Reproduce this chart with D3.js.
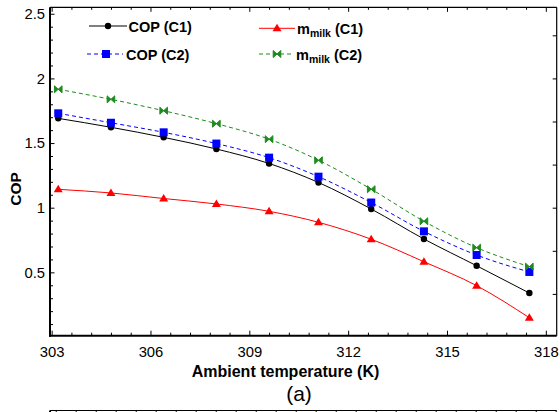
<!DOCTYPE html>
<html>
<head>
<meta charset="utf-8">
<script src="https://cdn.jsdelivr.net/npm/d3@7"></script>
<style>
  html, body { margin: 0; padding: 0; background: #fff; }
  svg { display: block; }
  text { font-family: "Liberation Sans", Arial, sans-serif; fill: #000; }
</style>
</head>
<body>
<svg id="chart" width="560" height="412"></svg>
<script>
// ---- data ----
const temps   = [303.2, 304.8, 306.4, 308.0, 309.6, 311.1, 312.7, 314.3, 315.9, 317.5];
const copC1   = [1.691, 1.622, 1.544, 1.454, 1.342, 1.195, 0.990, 0.758, 0.551, 0.340];
const copC2   = [1.730, 1.657, 1.583, 1.496, 1.387, 1.240, 1.040, 0.817, 0.634, 0.503];
const mMilkC1 = [1.142, 1.114, 1.071, 1.029, 0.972, 0.887, 0.756, 0.582, 0.397, 0.149];
const mMilkC2 = [1.916, 1.838, 1.750, 1.650, 1.530, 1.367, 1.143, 0.895, 0.691, 0.544];

const xTickValues = [303, 306, 309, 312, 315, 318];
const xTickLabels = ["303", "306", "309", "312", "315", "318"];
const yTickValues = [0.5, 1, 1.5, 2, 2.5];
const yTickLabels = ["0.5", "1", "1.5", "2", "2.5"];
const rightTickValues = [1, 2, 3, 4, 5, 6, 7];
const xLabel = "Ambient temperature (K)";
const yLabel = "COP";
const panelLabel = "(a)";

// ---- layout ----
const svg = d3.select("#chart");
const L = 50, R = 556.7, T = 7.3, B = 335.7;

const x = d3.scaleLinear().domain([302.95, 318.33]).range([L, R]);
const y = d3.scaleLinear().domain([0.01, 2.55]).range([B, T]);
const yRight = d3.scaleLinear().domain([0.03, 7.65]).range([B, T]);

const fontTick = 14.8;

// minor tick values
const xMinor = d3.range(0, 26).map(i => 303 + i * 0.6).filter(v => v <= 318.3 && !xTickValues.some(t => Math.abs(t - v) < 1e-6));
const yMinor = d3.range(1, 26).map(i => +(i * 0.1).toFixed(2)).filter(v => !yTickValues.some(t => Math.abs(t - v) < 1e-6));

// ---- axes ----
const gB = svg.append("g").attr("transform", `translate(0,${B})`)
  .call(d3.axisBottom(x).tickValues(xTickValues).tickFormat((d, i) => xTickLabels[i])
    .tickSizeInner(-5).tickSizeOuter(0).tickPadding(11));
gB.select(".domain").remove();
gB.selectAll(".tick line").attr("stroke", "#000").attr("stroke-width", 1);
gB.selectAll(".tick text").attr("font-size", fontTick).attr("font-family", "Liberation Sans, Arial, sans-serif");
svg.append("g").attr("transform", `translate(0,${B})`)
  .call(d3.axisBottom(x).tickValues(xMinor).tickFormat("").tickSizeInner(-3).tickSizeOuter(0))
  .call(g => g.select(".domain").remove())
  .selectAll(".tick line").attr("stroke", "#000");

svg.append("g").attr("transform", `translate(0,${T})`)
  .call(d3.axisTop(x).tickValues(xTickValues).tickFormat("").tickSizeInner(-4.5).tickSizeOuter(0))
  .call(g => g.select(".domain").remove())
  .selectAll(".tick line").attr("stroke", "#000");
svg.append("g").attr("transform", `translate(0,${T})`)
  .call(d3.axisTop(x).tickValues(xMinor).tickFormat("").tickSizeInner(-2.5).tickSizeOuter(0))
  .call(g => g.select(".domain").remove())
  .selectAll(".tick line").attr("stroke", "#000");

const gL = svg.append("g").attr("transform", `translate(${L},0)`)
  .call(d3.axisLeft(y).tickValues(yTickValues).tickFormat((d, i) => yTickLabels[i])
    .tickSizeInner(-4.5).tickSizeOuter(0).tickPadding(5));
gL.select(".domain").remove();
gL.selectAll(".tick line").attr("stroke", "#000");
gL.selectAll(".tick text").attr("font-size", fontTick).attr("font-family", "Liberation Sans, Arial, sans-serif");
svg.append("g").attr("transform", `translate(${L},0)`)
  .call(d3.axisLeft(y).tickValues(yMinor).tickFormat("").tickSizeInner(-3).tickSizeOuter(0))
  .call(g => g.select(".domain").remove())
  .selectAll(".tick line").attr("stroke", "#000");

svg.append("g").attr("transform", `translate(${R},0)`)
  .call(d3.axisRight(yRight).tickValues(rightTickValues).tickFormat("").tickSizeInner(-4).tickSizeOuter(0))
  .call(g => g.select(".domain").remove())
  .selectAll(".tick line").attr("stroke", "#000");

// frame
svg.append("line").attr("x1", L).attr("x2", R).attr("y1", T).attr("y2", T).attr("stroke", "#000").attr("stroke-width", 1.2);
svg.append("line").attr("x1", R).attr("x2", R).attr("y1", T).attr("y2", B).attr("stroke", "#000").attr("stroke-width", 1.2);
svg.append("line").attr("x1", L).attr("x2", L).attr("y1", T).attr("y2", B + 1).attr("stroke", "#000").attr("stroke-width", 2);
svg.append("line").attr("x1", L - 1).attr("x2", R).attr("y1", B).attr("y2", B).attr("stroke", "#000").attr("stroke-width", 2);

// axis titles
svg.append("text").attr("x", 285.5).attr("y", 377).attr("text-anchor", "middle")
  .attr("font-size", 16).attr("font-weight", "bold").text(xLabel);
svg.append("text").attr("transform", "translate(21,189) rotate(-90)").attr("text-anchor", "middle")
  .attr("font-size", 15.5).attr("font-weight", "bold").text(yLabel);
svg.append("text").attr("x", 299).attr("y", 401).attr("text-anchor", "middle")
  .attr("font-family", "Liberation Serif, Times New Roman, serif")
  .attr("font-size", 21).text(panelLabel);

// ---- series ----
const series = [
  { name: "COP (C1)", values: copC1, color: "#000000", dash: null, marker: "circle" },
  { name: "mmilk (C1)", values: mMilkC1, color: "#ff0000", dash: null, marker: "triangle" },
  { name: "COP (C2)", values: copC2, color: "#0000ff", dash: "4,3", marker: "square" },
  { name: "mmilk (C2)", values: mMilkC2, color: "#1e8b1e", dash: "4,3", marker: "bowtie" }
];

const line = d3.line().x(d => x(d[0])).y(d => y(d[1])).curve(d3.curveMonotoneX);

function drawMarker(g, type, cx, cy, color) {
  if (type === "circle") {
    g.append("circle").attr("cx", cx).attr("cy", cy).attr("r", 3.2).attr("fill", color);
  } else if (type === "square") {
    g.append("rect").attr("x", cx - 4).attr("y", cy - 4).attr("width", 8).attr("height", 8).attr("fill", color);
  } else if (type === "triangle") {
    g.append("path").attr("d", `M${cx},${cy - 4.5}L${cx + 4.5},${cy + 3}L${cx - 4.5},${cy + 3}Z`).attr("fill", color);
  } else if (type === "bowtie") {
    g.append("path").attr("d", `M${cx - 3.8},${cy - 3.5}L${cx},${cy}L${cx - 3.8},${cy + 3.5}Z M${cx + 3.8},${cy - 3.5}L${cx},${cy}L${cx + 3.8},${cy + 3.5}Z`)
      .attr("fill", color).attr("stroke", color).attr("stroke-width", 1);
  }
}

series.forEach(s => {
  const pts = temps.map((t, i) => [t, s.values[i]]);
  svg.append("path").datum(pts).attr("d", line).attr("fill", "none")
    .attr("stroke", s.color).attr("stroke-width", 1).attr("stroke-dasharray", s.dash);
});
series.forEach(s => {
  const g = svg.append("g");
  temps.forEach((t, i) => drawMarker(g, s.marker, x(t), y(s.values[i]), s.color));
});

// ---- legend ----
const legendItems = [
  { s: series[0], x1: 89, x2: 127, ly: 26, mx: 108, tx: 128.5, ty: 31.5, main: "COP (C1)" },
  { s: series[2], x1: 87, x2: 123, ly: 54, mx: 106, tx: 126, ty: 59.5, main: "COP (C2)" },
  { s: series[1], x1: 259, x2: 295, ly: 28.3, mx: 277, tx: 297, ty: 33.5, main: "m", sub: "milk", post: " (C1)" },
  { s: series[3], x1: 259, x2: 293, ly: 54, mx: 277, tx: 296, ty: 59.5, main: "m", sub: "milk", post: " (C2)" }
];
legendItems.forEach(it => {
  const g = svg.append("g");
  g.append("line").attr("x1", it.x1).attr("x2", it.x2).attr("y1", it.ly).attr("y2", it.ly)
    .attr("stroke", it.s.color).attr("stroke-width", 1).attr("stroke-dasharray", it.s.dash);
  drawMarker(g, it.s.marker, it.mx, it.ly, it.s.color);
  const t = g.append("text").attr("x", it.tx).attr("y", it.ty).attr("font-size", 14.5).attr("font-weight", "bold");
  t.append("tspan").text(it.main);
  if (it.sub) {
    t.append("tspan").attr("font-size", 10.5).attr("dy", 3).text(it.sub);
    t.append("tspan").attr("dy", -3).text(it.post);
  }
});

// ---- top edge of the next panel (partially visible) ----
const yNext = 410.5;
svg.append("line").attr("x1", L).attr("x2", R).attr("y1", yNext).attr("y2", yNext).attr("stroke", "#000").attr("stroke-width", 1.2);
svg.append("line").attr("x1", L).attr("x2", L).attr("y1", yNext).attr("y2", 412).attr("stroke", "#000").attr("stroke-width", 2);
const xNext = d3.scaleLinear().domain([0, 25]).range([55.7, 555.7]);
svg.append("g").attr("transform", `translate(0,${yNext})`)
  .call(d3.axisBottom(xNext).ticks(25).tickFormat("").tickSizeInner(3).tickSizeOuter(0))
  .call(g => g.select(".domain").remove())
  .selectAll(".tick line").attr("stroke", "#000");
</script>
</body>
</html>
